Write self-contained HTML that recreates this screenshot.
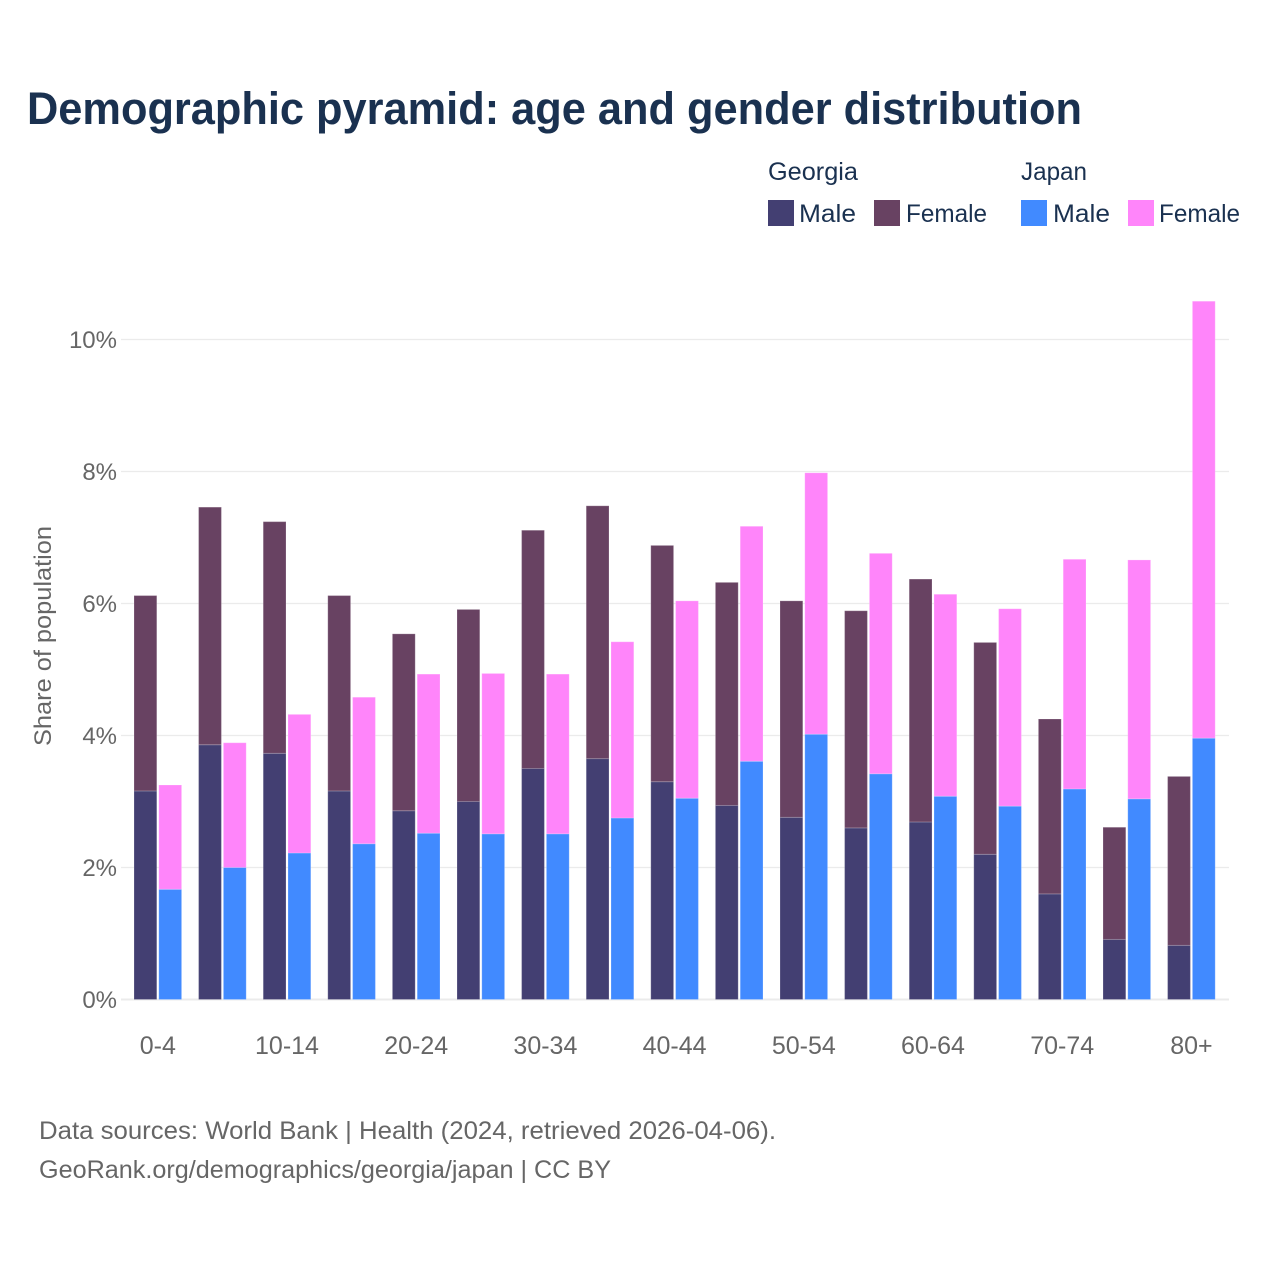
<!DOCTYPE html>
<html lang="en">
<head>
<meta charset="utf-8">
<title>Demographic pyramid: age and gender distribution</title>
<style>
html,body{margin:0;padding:0;background:#fff}
svg{display:block}
text{font-family:"Liberation Sans",sans-serif}
</style>
</head>
<body>
<svg id="chart" xmlns="http://www.w3.org/2000/svg" width="1280" height="1280" viewBox="0 0 1280 1280">
  <rect x="0" y="0" width="1280" height="1280" fill="#ffffff"/>
  <text x="27" y="124" font-size="45" font-weight="700" fill="#1a3150" textLength="1055" lengthAdjust="spacingAndGlyphs">Demographic pyramid: age and gender distribution</text>

  <g font-size="25" fill="#1a3150">
    <text x="768" y="180" textLength="90" lengthAdjust="spacingAndGlyphs">Georgia</text>
    <text x="1021" y="180" textLength="66" lengthAdjust="spacingAndGlyphs">Japan</text>
    <rect x="768" y="200" width="26" height="26" fill="#433f72"/>
    <text x="799" y="222" textLength="57" lengthAdjust="spacingAndGlyphs">Male</text>
    <rect x="874" y="200" width="26" height="26" fill="#684262"/>
    <text x="906" y="222" textLength="81" lengthAdjust="spacingAndGlyphs">Female</text>
    <rect x="1021" y="200" width="26" height="26" fill="#418aff"/>
    <text x="1053" y="222" textLength="57" lengthAdjust="spacingAndGlyphs">Male</text>
    <rect x="1128" y="200" width="26" height="26" fill="#ff85fa"/>
    <text x="1159" y="222" textLength="81" lengthAdjust="spacingAndGlyphs">Female</text>
  </g>

  <g id="grid"></g>
  <g id="yticks"></g>
  <text transform="translate(51,636) rotate(-90)" text-anchor="middle" font-size="24" fill="#666666" textLength="220" lengthAdjust="spacingAndGlyphs">Share of population</text>
  <g id="bars"></g>
  <g id="xticks"></g>

  <g font-size="25" fill="#666666">
    <text x="39" y="1139" textLength="737" lengthAdjust="spacingAndGlyphs">Data sources: World Bank | Health (2024, retrieved 2026-04-06).</text>
    <text x="39" y="1178" textLength="572" lengthAdjust="spacingAndGlyphs">GeoRank.org/demographics/georgia/japan | CC BY</text>
  </g>
</svg>
<script>
const categories = ["0-4","5-9","10-14","15-19","20-24","25-29","30-34","35-39","40-44","45-49","50-54","55-59","60-64","65-69","70-74","75-79","80+"];
const xTickLabels = ["0-4","10-14","20-24","30-34","40-44","50-54","60-64","70-74","80+"];
const yTicks = [0,2,4,6,8,10];
const georgiaMale = [3.16,3.86,3.73,3.16,2.86,3.0,3.5,3.65,3.3,2.94,2.76,2.6,2.69,2.2,1.6,0.91,0.82];
const georgiaFemale = [2.96,3.6,3.51,2.96,2.68,2.91,3.61,3.83,3.58,3.38,3.28,3.29,3.68,3.21,2.65,1.7,2.56];
const japanMale = [1.67,2.0,2.22,2.36,2.52,2.51,2.51,2.75,3.05,3.61,4.02,3.42,3.08,2.93,3.19,3.04,3.96];
const japanFemale = [1.58,1.89,2.1,2.22,2.41,2.43,2.42,2.67,2.99,3.56,3.96,3.34,3.06,2.99,3.48,3.62,6.62];

const NS = "http://www.w3.org/2000/svg";
const plotLeft = 125.5, groupStep = 64.6, barW = 22.8, barGap = 2;
const xGroup = i => plotLeft + groupStep * (i + 0.5);
const yScale = v => 999.5 - 66 * v;

const grid = document.getElementById("grid");
const yt = document.getElementById("yticks");
yTicks.forEach(t => {
  const l = document.createElementNS(NS, "line");
  
  
  l.setAttribute("x1", 121);
  l.setAttribute("x2", 1229);
  l.setAttribute("y1", yScale(t));
  l.setAttribute("y2", yScale(t));
  l.setAttribute("stroke", "#ebebeb");
  l.setAttribute("stroke-width", t === 0 ? 2 : 1.3);
  grid.appendChild(l);
  const s = document.createElementNS(NS, "text");
  
  
  s.setAttribute("x", 117);
  s.setAttribute("y", yScale(t) + 8.5);
  s.setAttribute("text-anchor", "end");
  s.setAttribute("font-size", "24");
  s.setAttribute("fill", "#666666");
  s.textContent = t + "%";
  yt.appendChild(s);
});

const barsG = document.getElementById("bars");
function addBar(x, base, value, color) {
  const r = document.createElementNS(NS, "rect");
  
  
  r.setAttribute("x", x);
  r.setAttribute("y", yScale(base + value));
  r.setAttribute("width", barW);
  r.setAttribute("height", yScale(base) - yScale(base + value));
  r.setAttribute("fill", color);
  r.setAttribute("stroke", "#ffffff");
  r.setAttribute("stroke-opacity", "0.2");
  r.setAttribute("stroke-width", "1");
  barsG.appendChild(r);
}
categories.forEach((c, i) => {
  const cx = xGroup(i);
  const gx = cx - barW - barGap / 2;
  const jx = cx + barGap / 2;
  addBar(gx, 0, georgiaMale[i], "#433f72");
  addBar(gx, georgiaMale[i], georgiaFemale[i], "#684262");
  addBar(jx, 0, japanMale[i], "#418aff");
  addBar(jx, japanMale[i], japanFemale[i], "#ff85fa");
});

const xt = document.getElementById("xticks");
xTickLabels.forEach(lab => {
  const i = categories.indexOf(lab);
  const s = document.createElementNS(NS, "text");
  
  
  s.setAttribute("x", xGroup(i));
  s.setAttribute("y", 1054);
  s.setAttribute("text-anchor", "middle");
  s.setAttribute("font-size", "25");
  s.setAttribute("fill", "#666666");
  s.textContent = lab;
  xt.appendChild(s);
});
</script>
</body>
</html>
